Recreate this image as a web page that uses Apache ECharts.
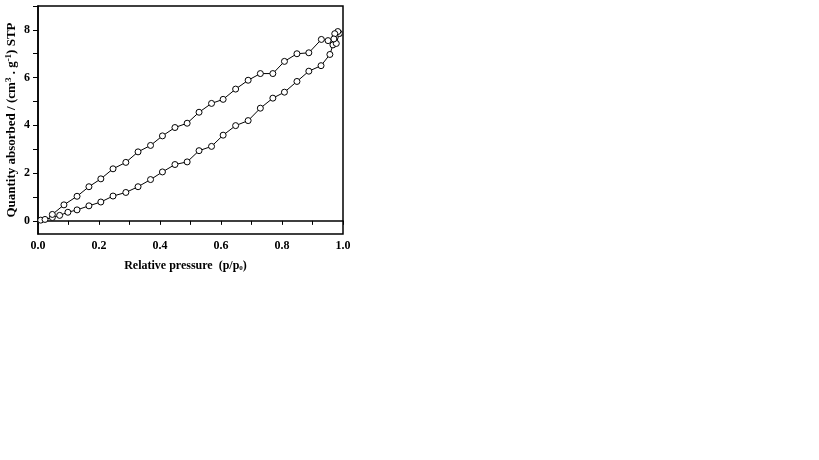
<!DOCTYPE html>
<html>
<head>
<meta charset="utf-8">
<script src="https://cdn.jsdelivr.net/npm/echarts@6/dist/echarts.min.js"></script>
<style>
  html, body { margin: 0; padding: 0; background: #fff; }
  #chart { width: 819px; height: 460px; }
</style>
</head>
<body>
<div id="chart"></div>
<script>
// adsorption branch (lower)
const adsP = [0.009, 0.023, 0.047, 0.071, 0.098, 0.128, 0.167, 0.206, 0.246, 0.288,
  0.328, 0.369, 0.408, 0.449, 0.489, 0.528, 0.569, 0.607, 0.648, 0.689,
  0.729, 0.770, 0.808, 0.849, 0.888, 0.928, 0.957, 0.967, 0.978, 0.988];
const adsQ = [0.03, 0.06, 0.14, 0.23, 0.36, 0.46, 0.63, 0.79, 1.04, 1.19,
  1.43, 1.73, 2.05, 2.36, 2.47, 2.94, 3.12, 3.59, 3.99, 4.20,
  4.72, 5.14, 5.39, 5.84, 6.27, 6.50, 6.97, 7.37, 7.43, 7.85];

// desorption branch (upper)
const desP = [0.988, 0.983, 0.973, 0.970, 0.951, 0.929, 0.888, 0.849, 0.808, 0.770,
  0.729, 0.689, 0.648, 0.607, 0.569, 0.528, 0.489, 0.449, 0.408, 0.369,
  0.328, 0.288, 0.246, 0.206, 0.167, 0.128, 0.085, 0.047];
const desQ = [7.85, 7.93, 7.84, 7.62, 7.55, 7.60, 7.04, 7.00, 6.68, 6.17,
  6.17, 5.89, 5.52, 5.09, 4.92, 4.55, 4.09, 3.91, 3.56, 3.16,
  2.89, 2.45, 2.18, 1.76, 1.43, 1.03, 0.67, 0.27];

const yLabels = [0, 2, 4, 6, 8];
const yTicks = [0, 1, 2, 3, 4, 5, 6, 7, 8, 9];

const font = 'Liberation Serif';

const chart = echarts.init(document.getElementById('chart'));

const zip = (xs, ys) => xs.map((x, i) => [x, ys[i]]);

const lineSeries = (name, data) => ({
  name: name,
  type: 'line',
  data: data,
  symbol: 'circle',
  symbolSize: 6,
  showSymbol: true,
  lineStyle: { color: '#000', width: 1 },
  itemStyle: { color: '#fff', borderColor: '#000', borderWidth: 1 },
  animation: false
});

chart.setOption({
  animation: false,
  grid: {
    left: 38, top: 6, right: 476, bottom: 226,
    show: true, borderColor: '#000', borderWidth: 1.5, backgroundColor: 'transparent'
  },
  xAxis: {
    type: 'value',
    min: 0, max: 1, interval: 0.2,
    axisLine: { lineStyle: { color: '#000', width: 1.5 } },
    axisTick: { inside: false, length: 4, lineStyle: { color: '#000', width: 1 } },
    minorTick: { show: true, splitNumber: 2, length: 4, lineStyle: { color: '#000' } },
    splitLine: { show: false },
    axisLabel: {
      color: '#000', fontFamily: font, fontWeight: 'bold', fontSize: 12, margin: 6,
      formatter: v => v.toFixed(1)
    },
    name: '{n|Relative pressure  (p/p}{sub|0}{n|)}',
    nameLocation: 'middle',
    nameGap: 25,
    nameMoveOverlap: false,
    nameTextStyle: {
      padding: [0, 10, 0, 0],
      rich: {
        n: { fontFamily: font, fontWeight: 'bold', fontSize: 12, color: '#000' },
        sub: { fontFamily: font, fontWeight: 'bold', fontSize: 7, color: '#000', padding: [6, 0, 0, 0] }
      }
    }
  },
  yAxis: {
    type: 'value',
    min: -0.55, max: 9,
    axisLine: { lineStyle: { color: '#000', width: 1.5 } },
    axisTick: { inside: false, length: 5, customValues: yTicks, lineStyle: { color: '#000', width: 1 } },
    splitLine: { show: false },
    axisLabel: {
      color: '#000', fontFamily: font, fontWeight: 'bold', fontSize: 12, margin: 8,
      customValues: yLabels
    },
    name: '{n|Quantity absorbed / (cm}{sup|3}{n| . g}{sup|-1}{n|) STP}',
    nameLocation: 'middle',
    nameGap: 18,
    nameMoveOverlap: false,
    nameTextStyle: {
      rich: {
        n: { fontFamily: font, fontWeight: 'bold', fontSize: 13, color: '#000' },
        sup: { fontFamily: font, fontWeight: 'bold', fontSize: 9, color: '#000', padding: [0, 0, 7, 0] }
      }
    }
  },
  series: [
    lineSeries('adsorption', zip(adsP, adsQ)),
    lineSeries('desorption', zip(desP, desQ))
  ]
});
</script>
</body>
</html>
